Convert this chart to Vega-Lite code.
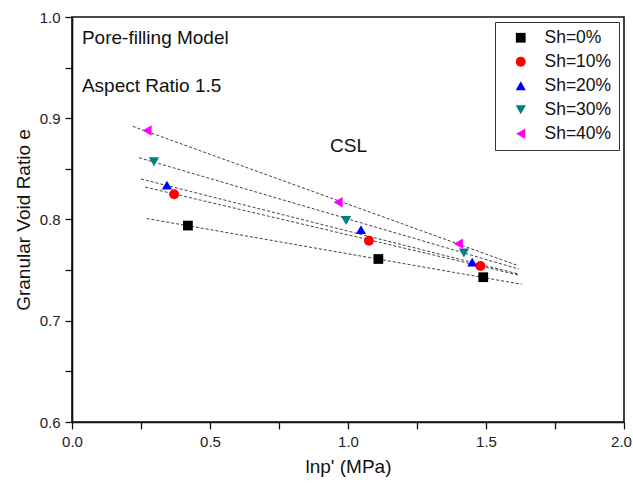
{
  "$schema": "https://vega.github.io/schema/vega-lite/v6.json",
  "width": 552,
  "height": 405,
  "autosize": {"type": "none"},
  "padding": {"left": 72, "top": 17, "right": 9, "bottom": 71},
  "background": "white",
  "config": {
    "font": "Liberation Sans",
    "view": {"stroke": "#111", "strokeWidth": 1.6},
    "axis": {
      "domainColor": "#111", "domainWidth": 1.6, "tickColor": "#111", "tickWidth": 1.3,
      "labelFont": "Liberation Sans", "labelFontSize": 15, "labelColor": "#222",
      "titleFont": "Liberation Sans", "titleFontSize": 19, "titleFontWeight": "normal", "titleColor": "#111",
      "grid": false
    }
  },
  "datasets": {
    "pts": [
      {"x": 0.42, "y": 0.794, "Sh": "Sh=0%"},
      {"x": 1.11, "y": 0.761, "Sh": "Sh=0%"},
      {"x": 1.49, "y": 0.743, "Sh": "Sh=0%"},
      {"x": 0.37, "y": 0.825, "Sh": "Sh=10%"},
      {"x": 1.076, "y": 0.779, "Sh": "Sh=10%"},
      {"x": 1.48, "y": 0.754, "Sh": "Sh=10%"},
      {"x": 0.344, "y": 0.834, "Sh": "Sh=20%"},
      {"x": 1.047, "y": 0.790, "Sh": "Sh=20%"},
      {"x": 1.45, "y": 0.758, "Sh": "Sh=20%"},
      {"x": 0.297, "y": 0.857, "Sh": "Sh=30%"},
      {"x": 0.993, "y": 0.799, "Sh": "Sh=30%"},
      {"x": 1.42, "y": 0.767, "Sh": "Sh=30%"},
      {"x": 0.272, "y": 0.888, "Sh": "Sh=40%"},
      {"x": 0.964, "y": 0.817, "Sh": "Sh=40%"},
      {"x": 1.40, "y": 0.776, "Sh": "Sh=40%"}
    ],
    "fits": [
      {"x": 0.27, "y": 0.801, "Sh": "Sh=0%"},
      {"x": 1.63, "y": 0.736, "Sh": "Sh=0%"},
      {"x": 0.265, "y": 0.832, "Sh": "Sh=10%"},
      {"x": 1.62, "y": 0.745, "Sh": "Sh=10%"},
      {"x": 0.25, "y": 0.840, "Sh": "Sh=20%"},
      {"x": 1.62, "y": 0.746, "Sh": "Sh=20%"},
      {"x": 0.243, "y": 0.861, "Sh": "Sh=30%"},
      {"x": 1.62, "y": 0.751, "Sh": "Sh=30%"},
      {"x": 0.22, "y": 0.892, "Sh": "Sh=40%"},
      {"x": 1.61, "y": 0.755, "Sh": "Sh=40%"}
    ],
    "notes": [
      {"x": 0.036, "y": 0.979, "t": "Pore-filling Model", "s": 19},
      {"x": 0.036, "y": 0.932, "t": "Aspect Ratio 1.5", "s": 19},
      {"x": 0.935, "y": 0.873, "t": "CSL", "s": 19}
    ]
  },
  "layer": [
    {
      "data": {"name": "fits"},
      "mark": {"type": "line", "color": "#111", "strokeWidth": 0.8, "strokeDash": [3, 2]},
      "encoding": {
        "x": {"field": "x", "type": "quantitative", "scale": {"domain": [0, 2]},
          "axis": {"title": "lnp' (MPa)", "values": [0, 0.25, 0.5, 0.75, 1, 1.25, 1.5, 1.75, 2],
            "labelExpr": "datum.value % 0.5 == 0 ? format(datum.value, '.1f') : ''",
            "labelOffset": {"condition": {"test": "datum.value == 2", "value": -3}, "value": 0},
            "tickSize": 7, "labelPadding": 5, "titlePadding": 8, "labelFlush": false}},
        "y": {"field": "y", "type": "quantitative", "scale": {"domain": [0.6, 1.0]},
          "axis": {"title": "Granular Void Ratio e", "values": [0.6, 0.65, 0.7, 0.75, 0.8, 0.85, 0.9, 0.95, 1.0],
            "labelExpr": "abs(datum.value * 10 - round(datum.value * 10)) < 0.001 ? format(datum.value, '.1f') : ''",
            "tickSize": 7, "labelPadding": 5, "titlePadding": 6, "labelFlush": false}},
        "detail": {"field": "Sh"}
      }
    },
    {
      "data": {"name": "pts"},
      "mark": {"type": "point", "filled": true, "opacity": 1},
      "encoding": {
        "x": {"field": "x", "type": "quantitative"},
        "y": {"field": "y", "type": "quantitative"},
        "color": {"field": "Sh", "type": "nominal",
          "scale": {"domain": ["Sh=0%", "Sh=10%", "Sh=20%", "Sh=30%", "Sh=40%"],
            "range": ["#000000", "#ff0000", "#0000ff", "#008080", "#ff00ff"]},
          "legend": {"title": null, "orient": "none", "legendX": 423, "legendY": 5,
            "strokeColor": "#333", "padding": 7, "labelFontSize": 17.5, "labelFont": "Liberation Sans",
            "labelColor": "#111", "symbolSize": 80, "rowPadding": 5, "labelOffset": 15,
            "symbolOffset": 10, "symbolType": "circle"}},
        "shape": {"field": "Sh", "type": "nominal",
          "scale": {"domain": ["Sh=0%", "Sh=10%", "Sh=20%", "Sh=30%", "Sh=40%"],
            "range": ["square", "circle", "triangle-up", "triangle-down", "triangle-left"]},
          "legend": null},
        "size": {"field": "Sh", "type": "nominal",
          "scale": {"domain": ["Sh=0%", "Sh=10%", "Sh=20%", "Sh=30%", "Sh=40%"],
            "range": [95, 110, 190, 190, 190]},
          "legend": null}
      }
    },
    {
      "data": {"name": "notes"},
      "mark": {"type": "text", "align": "left", "baseline": "middle", "font": "Liberation Sans", "color": "#111"},
      "encoding": {
        "x": {"field": "x", "type": "quantitative"},
        "y": {"field": "y", "type": "quantitative"},
        "text": {"field": "t"},
        "size": {"field": "s", "type": "quantitative", "scale": null}
      }
    }
  ]
}
